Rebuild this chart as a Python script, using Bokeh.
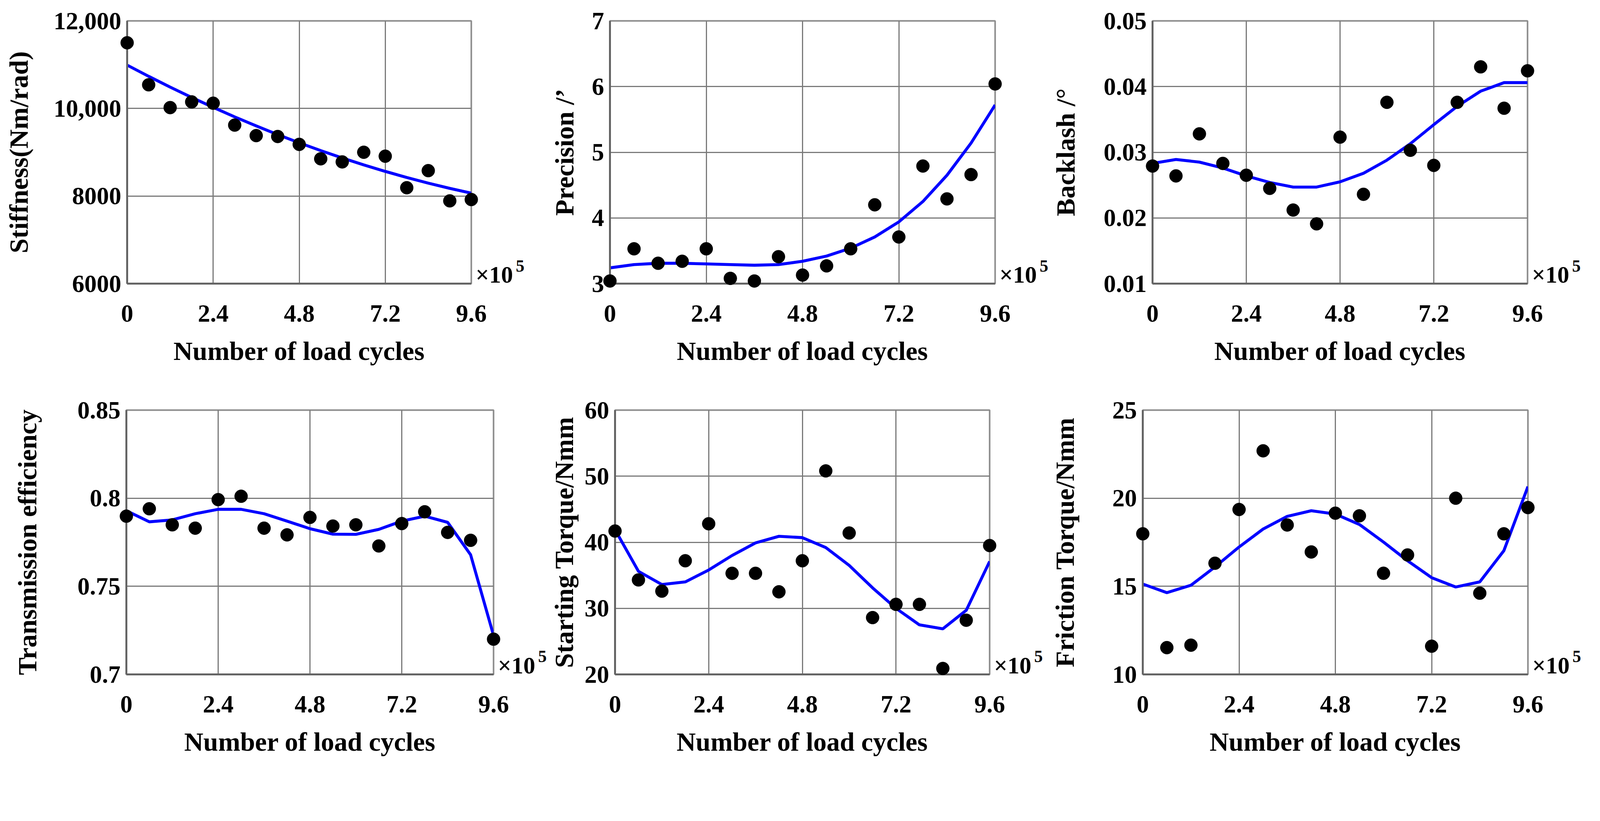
from bokeh.plotting import figure
from bokeh.layouts import column, row
from bokeh.models import FixedTicker, LinearAxis
from bokeh.embed import file_html
from bokeh.resources import INLINE

# load cycles (x 10^5)
cycles = [0, 0.6, 1.2, 1.8, 2.4, 3.0, 3.6, 4.2, 4.8, 5.4, 6.0, 6.6, 7.2, 7.8, 8.4, 9.0, 9.6]
x_ticks = [0, 2.4, 4.8, 7.2, 9.6]
x_tick_labels = ["0", "2.4", "4.8", "7.2", "9.6"]

# measured points and fitted curves
stiffness = [11500, 10540, 10020, 10150, 10120, 9620, 9380, 9360, 9180, 8850, 8780, 9000, 8910, 8190, 8580, 7890, 7920]
stiffness_fit = [10990, 10734, 10488, 10252, 10025, 9808, 9601, 9404, 9216, 9038, 8870, 8711, 8563, 8424, 8294, 8175, 8065]

precision = [3.04, 3.53, 3.31, 3.34, 3.53, 3.08, 3.04, 3.41, 3.13, 3.27, 3.53, 4.20, 3.71, 4.79, 4.29, 4.66, 6.04]
precision_fit = [3.24, 3.29, 3.31, 3.31, 3.30, 3.29, 3.28, 3.29, 3.34, 3.42, 3.54, 3.71, 3.94, 4.25, 4.65, 5.14, 5.72]

backlash = [0.0279, 0.0264, 0.0328, 0.0283, 0.0265, 0.0245, 0.0212, 0.0191, 0.0323, 0.0236, 0.0376, 0.0303, 0.0280, 0.0376, 0.0430, 0.0367, 0.0424]
backlash_fit = [0.0283, 0.0289, 0.0285, 0.0276, 0.0264, 0.0254, 0.0247, 0.0247, 0.0255, 0.0268, 0.0288, 0.0313, 0.0342, 0.0370, 0.0393, 0.0406, 0.0406]

efficiency = [0.7898, 0.7940, 0.7849, 0.7830, 0.7992, 0.8011, 0.7830, 0.7792, 0.7891, 0.7842, 0.7849, 0.7729, 0.7856, 0.7923, 0.7806, 0.7761, 0.7200]
efficiency_fit = [0.7929, 0.7866, 0.7877, 0.7912, 0.7937, 0.7937, 0.7912, 0.7870, 0.7827, 0.7796, 0.7795, 0.7823, 0.7870, 0.7898, 0.7863, 0.7679, 0.7221]

start_torque = [41.7, 34.3, 32.6, 37.2, 42.8, 35.3, 35.3, 32.5, 37.2, 50.8, 41.4, 28.6, 30.6, 30.6, 20.9, 28.2, 39.5]
start_torque_fit = [41.9, 35.6, 33.6, 34.0, 35.8, 38.0, 39.9, 40.9, 40.7, 39.2, 36.5, 33.1, 30.0, 27.5, 26.9, 29.7, 37.1]

friction_torque = [17.98, 11.52, 11.66, 16.31, 19.36, 22.69, 18.48, 16.95, 19.15, 19.00, 15.74, 16.78, 11.60, 20.00, 14.61, 17.98, 19.47]
friction_torque_fit = [15.13, 14.64, 15.06, 16.10, 17.23, 18.25, 18.97, 19.29, 19.10, 18.51, 17.51, 16.45, 15.49, 14.96, 15.25, 17.02, 20.66]

FONT = "Liberation Serif"
# the page is shown zoomed (4323 px picture of a ~4096 px wide page),
# so every size below is given in picture pixels and scaled down
S = 4096 / 4323


def px(v):
    return int(round(v * S))


def fpx(v):
    return "%dpx" % round(v * S)


def text_axis(y, text, size, standoff):
    # a bare axis on the right used only to place one piece of text
    ax = LinearAxis(ticker=FixedTicker(ticks=[y]), major_label_overrides={y: text})
    ax.axis_line_color = None
    ax.major_tick_line_color = None
    ax.minor_tick_line_color = None
    ax.major_tick_out = 0
    ax.major_tick_in = 0
    ax.major_label_standoff = px(standoff)
    ax.major_label_text_font = FONT
    ax.major_label_text_font_style = "bold"
    ax.major_label_text_font_size = fpx(size)
    ax.major_label_text_color = "black"
    return ax


def make_panel(ylabel, y_ticks, y_tick_labels, meas, fit, frame_w, frame_h, borders, ylabel_gap):
    left, right, top, bottom = borders
    y0, y1 = y_ticks[0], y_ticks[-1]
    p = figure(
        frame_width=px(frame_w),
        frame_height=px(frame_h),
        x_range=(0, 9.6),
        y_range=(y0, y1),
        min_border_left=px(left),
        min_border_right=px(right),
        min_border_top=px(top),
        min_border_bottom=px(bottom),
        x_axis_label="Number of load cycles",
        y_axis_label=ylabel,
        toolbar_location=None,
        output_backend="svg",
    )
    p.outline_line_color = "#8c8c8c"
    p.outline_line_width = px(4)
    p.grid.grid_line_color = "#7a7a7a"
    p.grid.grid_line_width = px(3)

    p.xaxis.ticker = FixedTicker(ticks=x_ticks)
    p.xaxis.major_label_overrides = dict(zip(x_ticks, x_tick_labels))
    p.yaxis.ticker = FixedTicker(ticks=y_ticks)
    p.yaxis.major_label_overrides = dict(zip(y_ticks, y_tick_labels))

    for ax in (p.xaxis[0], p.yaxis[0]):
        ax.major_label_text_font = FONT
        ax.major_label_text_font_style = "bold"
        ax.major_label_text_font_size = fpx(66)
        ax.major_label_text_color = "black"
        ax.axis_label_text_font = FONT
        ax.axis_label_text_font_style = "bold"
        ax.axis_label_text_font_size = fpx(72)
        ax.axis_label_text_color = "black"
        ax.major_tick_out = 0
        ax.major_tick_in = 0
        ax.minor_tick_line_color = None
        ax.axis_line_color = "#646464"
        ax.axis_line_width = px(5)
    p.xaxis.major_label_standoff = px(58)
    p.xaxis.axis_label_standoff = px(36)
    p.yaxis.major_label_standoff = px(16)
    p.yaxis.axis_label_standoff = px(ylabel_gap)

    p.line(cycles, fit, line_color="#0000ff", line_width=8 * S)
    dots = p.scatter(cycles, meas, size=35 * S, fill_color="black", line_color="black")
    dots.level = "overlay"

    # x10^5 multiplier at the end of the x axis ("5" raised as an exponent)
    p.add_layout(text_axis(y0 + (y1 - y0) * 24 / frame_h, "×10", 64, 12), "right")
    p.add_layout(text_axis(y0 + (y1 - y0) * 48 / frame_h, "5", 46, 4), "right")
    return p


p1 = make_panel("Stiffness(Nm/rad)", [6000, 8000, 10000, 12000], ["6000", "8000", "10,000", "12,000"],
                stiffness, stiffness_fit, 930, 710, (343, 146, 56, 286), 51)
p2 = make_panel("Precision /’", [3, 4, 5, 6, 7], ["3", "4", "5", "6", "7"],
                precision, precision_fit, 1041, 710, (228, 148, 56, 286), 31)
p3 = make_panel("Backlash /°", [0.01, 0.02, 0.03, 0.04, 0.05], ["0.01", "0.02", "0.03", "0.04", "0.05"],
                backlash, backlash_fit, 1013, 710, (278, 171, 56, 286), 59)
p4 = make_panel("Transmission efficiency", [0.7, 0.75, 0.8, 0.85], ["0.7", "0.75", "0.8", "0.85"],
                efficiency, efficiency_fit, 992, 714, (341, 146, 56, 250), 92)
p5 = make_panel("Starting Torque/Nmm", [20, 30, 40, 50, 60], ["20", "30", "40", "50", "60"],
                start_torque, start_torque_fit, 1012, 714, (182, 154, 56, 250), 13)
p6 = make_panel("Friction Torque/Nmm", [10, 15, 20, 25], ["10", "15", "20", "25"],
                friction_torque, friction_torque_fit, 1041, 714, (260, 170, 56, 250), 86)

layout = column(row(p1, p2, p3), row(p4, p5, p6))

open("out.html", "w").write(file_html(layout, INLINE))
